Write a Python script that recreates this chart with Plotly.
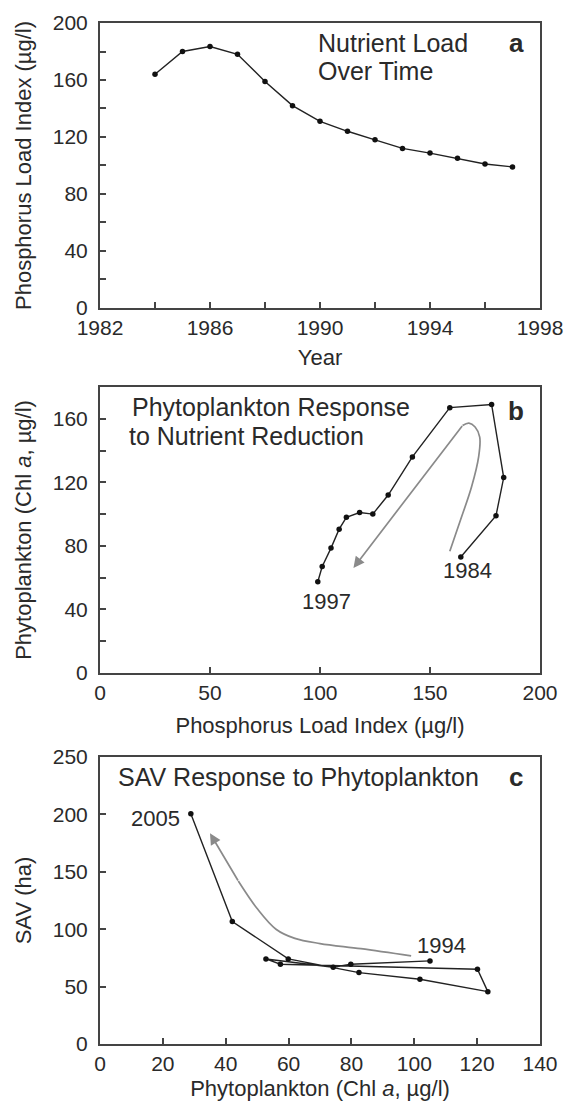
import plotly.graph_objects as go

# ---- data ----
years = list(range(1984, 1998))
p_load = [164, 180, 183.5, 178, 159, 142, 131, 124, 118, 112, 108.7, 105, 101, 99]
chl_b = [73, 99, 123, 169, 167, 136, 112, 100, 101, 98, 90.5, 78.6, 67, 57.4]
chl_c = [105, 79.8, 74.2, 52.8, 57.4, 120.1, 123.4, 101.8, 82.4, 59.9, 42.1, 28.9]
sav_c = [72.4, 69.5, 66.9, 74.1, 69.5, 65.1, 45.6, 56.4, 62.2, 74.1, 106.7, 200.6]

trend_b_x = [159.0, 163.9, 168.9, 172.1, 172.6, 170.5, 167.7, 164.8]
trend_b_y = [76.6, 96.4, 117.2, 136.0, 148.5, 154.8, 157.3, 155.8]
trend_b_tip = (115.2, 66.1)
trend_c_x = [99.0, 83.0, 70.0, 62.0, 56.0, 50.0, 44.0]
trend_c_y = [76.7, 83.0, 87.5, 92.0, 100.0, 118.0, 142.0]
trend_c_tip = (35.0, 183.5)

FONT = "Liberation Sans, Arial, sans-serif"
TXT = "#2a2a2a"
LINE = "#222222"
GREY = "#8a8a8a"

fig = go.Figure()

def series(x, y, xa, ya):
    fig.add_trace(go.Scatter(x=x, y=y, xaxis=xa, yaxis=ya, mode="lines+markers",
                             line=dict(color=LINE, width=1.4),
                             marker=dict(color="#111", size=5.5), showlegend=False,
                             hoverinfo="skip"))

series(years, p_load, "x", "y")
series(p_load, chl_b, "x2", "y2")
series(chl_c, sav_c, "x3", "y3")

for tx, ty, xa, ya in [(trend_b_x, trend_b_y, "x2", "y2"), (trend_c_x, trend_c_y, "x3", "y3")]:
    fig.add_trace(go.Scatter(x=tx, y=ty, xaxis=xa, yaxis=ya, mode="lines",
                             line=dict(color=GREY, width=1.7, shape="spline"),
                             showlegend=False, hoverinfo="skip"))

def axstyle(**kw):
    d = dict(showline=True, linecolor="#444", linewidth=2, mirror=True,
             ticks="inside", ticklen=6, tickwidth=1.5, tickcolor="#444",
             showgrid=False, zeroline=False, automargin=False,
             tickfont=dict(size=21, color=TXT, family=FONT),
             title_font=dict(size=22, color=TXT, family=FONT))
    d.update(kw)
    return d

minor_style = lambda dt: dict(dtick=dt, ticks="inside", ticklen=6, tickwidth=1.5, tickcolor="#444", showgrid=False)

fig.update_layout(
    width=567, height=1101,
    margin=dict(l=100, r=27, t=23, b=57),
    paper_bgcolor="white", plot_bgcolor="white",
    font=dict(family=FONT, color=TXT),
    xaxis=axstyle(range=[1982, 1998], dtick=4, tick0=1982, anchor="y",
                  minor=minor_style(2), title=dict(text="Year", standoff=11)),
    yaxis=axstyle(range=[0, 200], dtick=40, domain=[0.7209, 1.0], anchor="x",
                  minor=minor_style(20), ticklabelstandoff=6,
                  title=dict(text="Phosphorus Load Index (µg/l)", standoff=15)),
    xaxis2=axstyle(range=[0, 200], dtick=50, anchor="y2",
                   title=dict(text="Phosphorus Load Index (µg/l)", standoff=14)),
    yaxis2=axstyle(range=[0, 180], dtick=40, tick0=0, domain=[0.3634, 0.6435], anchor="x2",
                   minor=minor_style(20), ticklabelstandoff=6,
                   title=dict(text="Phytoplankton (Chl <i>a</i>, µg/l)", standoff=15)),
    xaxis3=axstyle(range=[0, 140], dtick=20, anchor="y3",
                   title=dict(text="Phytoplankton (Chl <i>a</i>, µg/l)", standoff=10)),
    yaxis3=axstyle(range=[0, 250], dtick=50, domain=[0.0, 0.2811], anchor="x3",
                   ticklabelstandoff=6,
                   title=dict(text="SAV (ha)", standoff=15)),
)

ann = []
def text(x, y, s, xa, ya, size=25, xanchor="center", bold=False):
    ann.append(dict(x=x, y=y, xref=xa, yref=ya, text=f"<b>{s}</b>" if bold else s,
                    showarrow=False, xanchor=xanchor, yanchor="middle",
                    font=dict(size=size, color=TXT, family=FONT)))

text(1989.85, 186.0, "Nutrient Load", "x", "y", xanchor="left")
text(1989.85, 166.0, "Over Time", "x", "y", xanchor="left")
text(1997.13, 186, "a", "x", "y", size=26, bold=True)
text(13.5, 167.7, "Phytoplankton Response", "x2", "y2", xanchor="left")
text(12.3, 148.9, "to Nutrient Reduction", "x2", "y2", xanchor="left")
text(189, 165, "b", "x2", "y2", size=26, bold=True)
text(102.9, 44.9, "1997", "x2", "y2", size=22)
text(167.1, 64.2, "1984", "x2", "y2", size=22)
text(5.1, 233, "SAV Response to Phytoplankton", "x3", "y3", xanchor="left")
text(132.5, 233, "c", "x3", "y3", size=26, bold=True)
text(17.5, 196, "2005", "x3", "y3", size=22)
text(108.7, 85.4, "1994", "x3", "y3", size=22)

# arrowheads
for tip, tx, ty, xa, ya in [(trend_b_tip, trend_b_x, trend_b_y, "x2", "y2"),
                            (trend_c_tip, trend_c_x, trend_c_y, "x3", "y3")]:
    ann.append(dict(x=tip[0], y=tip[1], xref=xa, yref=ya,
                    ax=tx[-1], ay=ty[-1], axref=xa, ayref=ya,
                    showarrow=True, arrowhead=2, arrowsize=1.3, arrowwidth=1.7,
                    arrowcolor=GREY, text="", font=dict(size=1), borderpad=0))
fig.update_layout(annotations=ann)

fig.write_html("out.html", config={"displayModeBar": False},
               post_script="document.body.style.margin='0';document.body.style.overflow='hidden';")
